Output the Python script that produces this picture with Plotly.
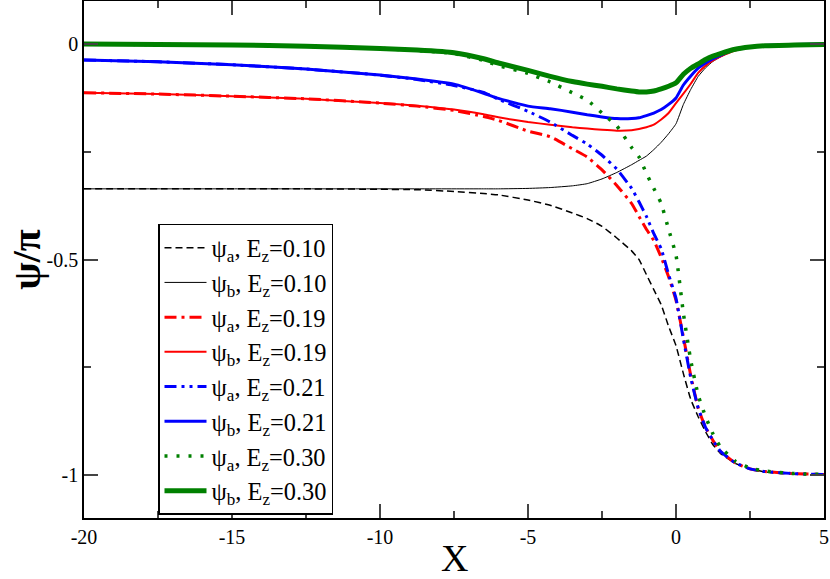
import plotly.graph_objects as go

# common x grid
x = [-20, -17.5, -15, -12.5, -10, -8.75, -7.5, -6.5, -6, -5, -4.25, -3.5, -3, -2.5, -2,
     -1.5, -1.25, -1, -0.75, -0.5, -0.25, 0, 0.25, 0.5, 0.75, 1, 1.25, 1.5, 2, 2.5, 3, 4, 5]

# psi/pi for each field
psi_a_010 = [-0.336, -0.336, -0.336, -0.336, -0.337, -0.338, -0.342, -0.347, -0.350, -0.362, -0.374,
             -0.392, -0.405, -0.423, -0.450, -0.480, -0.500, -0.535, -0.570, -0.605, -0.655, -0.700,
             -0.765, -0.825, -0.865, -0.900, -0.930, -0.950, -0.973, -0.986, -0.993, -0.998, -1.0]
psi_b_010 = [-0.336, -0.336, -0.336, -0.336, -0.336, -0.336, -0.336, -0.336, -0.336, -0.335, -0.333,
             -0.329, -0.324, -0.313, -0.298, -0.280, -0.270, -0.260, -0.245, -0.228, -0.208, -0.185,
             -0.140, -0.105, -0.075, -0.055, -0.040, -0.030, -0.014, -0.006, -0.002, -0.001, 0.0]
psi_a_019 = [-0.113, -0.116, -0.121, -0.127, -0.137, -0.144, -0.154, -0.168, -0.177, -0.202, -0.215,
             -0.243, -0.262, -0.292, -0.328, -0.370, -0.400, -0.430, -0.456, -0.495, -0.540, -0.595,
             -0.680, -0.770, -0.845, -0.890, -0.920, -0.945, -0.972, -0.986, -0.992, -0.997, -0.999]
psi_b_019 = [-0.113, -0.116, -0.121, -0.127, -0.137, -0.143, -0.152, -0.163, -0.170, -0.181, -0.187,
             -0.193, -0.196, -0.199, -0.201, -0.200, -0.197, -0.193, -0.187, -0.175, -0.160, -0.137,
             -0.115, -0.092, -0.067, -0.050, -0.038, -0.029, -0.015, -0.007, -0.003, -0.001, 0.0]
psi_a_021 = [-0.037, -0.041, -0.048, -0.058, -0.072, -0.082, -0.096, -0.112, -0.128, -0.156, -0.181,
             -0.212, -0.232, -0.258, -0.290, -0.335, -0.366, -0.400, -0.440, -0.475, -0.535, -0.590,
             -0.685, -0.775, -0.845, -0.890, -0.920, -0.945, -0.972, -0.986, -0.992, -0.997, -0.999]
psi_b_021 = [-0.037, -0.041, -0.048, -0.058, -0.072, -0.081, -0.093, -0.114, -0.126, -0.144, -0.150,
             -0.158, -0.164, -0.169, -0.173, -0.173, -0.171, -0.166, -0.160, -0.152, -0.140, -0.125,
             -0.095, -0.074, -0.056, -0.044, -0.034, -0.026, -0.013, -0.006, -0.003, -0.001, 0.0]
psi_a_030 = [0.0, -0.001, -0.002, -0.005, -0.010, -0.015, -0.022, -0.038, -0.050, -0.068, -0.088,
             -0.113, -0.130, -0.160, -0.190, -0.240, -0.262, -0.300, -0.335, -0.370, -0.430, -0.490,
             -0.625, -0.735, -0.815, -0.865, -0.905, -0.935, -0.968, -0.984, -0.991, -0.997, -0.999]
psi_b_030 = [0.0, -0.001, -0.002, -0.005, -0.010, -0.014, -0.020, -0.034, -0.044, -0.061, -0.075,
             -0.087, -0.093, -0.098, -0.104, -0.109, -0.111, -0.111, -0.109, -0.104, -0.098, -0.090,
             -0.070, -0.056, -0.046, -0.036, -0.028, -0.022, -0.012, -0.007, -0.004, -0.002, -0.001]

x_ticks = [-20, -15, -10, -5, 0, 5]
x_labels = ["-20", "-15", "-10", "-5", "0", "5"]
y_ticks = [0, -0.5, -1]
y_labels = ["0", "-0.5", "-1"]

series = [
    ("ψ<sub>a</sub>, E<sub>z</sub>=0.10", psi_a_010, "black", 1.5, "7px,4px"),
    ("ψ<sub>b</sub>, E<sub>z</sub>=0.10", psi_b_010, "black", 1, "solid"),
    ("ψ<sub>a</sub>, E<sub>z</sub>=0.19", psi_a_019, "red", 3, "12px,5px,3px,5px"),
    ("ψ<sub>b</sub>, E<sub>z</sub>=0.19", psi_b_019, "red", 2, "solid"),
    ("ψ<sub>a</sub>, E<sub>z</sub>=0.21", psi_a_021, "blue", 3, "12px,5px,3px,5px,3px,5px"),
    ("ψ<sub>b</sub>, E<sub>z</sub>=0.21", psi_b_021, "blue", 3, "solid"),
    ("ψ<sub>a</sub>, E<sub>z</sub>=0.30", psi_a_030, "green", 3.5, "3px,9px"),
    ("ψ<sub>b</sub>, E<sub>z</sub>=0.30", psi_b_030, "green", 5, "solid"),
]

fig = go.Figure()
for name, y, col, w, dash in series:
    fig.add_trace(go.Scatter(x=x, y=y, name=name, mode="lines",
                             line=dict(color=col, width=w, dash=dash, shape="spline", smoothing=0.4)))

axis_common = dict(showline=True, linecolor="black", linewidth=1.5, mirror="allticks",
                   ticks="inside", ticklen=14, tickwidth=1.5, tickcolor="#444",
                   showgrid=False, zeroline=False, automargin=False,
                   tickfont=dict(family="Liberation Serif", size=20, color="black"))

fig.update_layout(
    width=830, height=579,
    margin=dict(l=84, r=6, t=1, b=61),
    plot_bgcolor="white", paper_bgcolor="white",
    font=dict(family="Liberation Serif", color="black"),
    legend=dict(x=0.1, y=0.569, xanchor="left", yanchor="top",
                bordercolor="black", borderwidth=1.5, bgcolor="white", itemwidth=42,
                font=dict(family="Liberation Serif", size=24.4), tracegroupgap=0),
)
fig.update_xaxes(range=[-20, 5], tickvals=x_ticks, ticktext=x_labels,
                 minor=dict(tickvals=[-17.5, -12.5, -7.5, -2.5, 2.5], ticks="inside", ticklen=7,
                            tickcolor="#444", tickwidth=1.5),
                 **axis_common)
fig.update_yaxes(range=[-1.1, 0.1], tickvals=y_ticks, ticktext=y_labels,
                 minor=dict(tickvals=[-0.25, -0.75], ticks="inside", ticklen=7,
                            tickcolor="#444", tickwidth=1.5),
                 **axis_common)

# axis titles placed as annotations
fig.add_annotation(text="X", xref="paper", yref="paper", x=0.5, y=-0.077,
                   xanchor="center", yanchor="middle", showarrow=False,
                   font=dict(family="Liberation Serif", size=38))
fig.add_annotation(text="<b>ψ/π</b>", xref="paper", yref="paper", x=-0.078, y=0.5,
                   xanchor="center", yanchor="middle", showarrow=False, textangle=-90,
                   font=dict(family="Liberation Serif", size=40))

fig.write_html("out.html", config={"displayModeBar": False},
               post_script="document.body.style.margin='0';document.body.style.overflow='hidden';")
